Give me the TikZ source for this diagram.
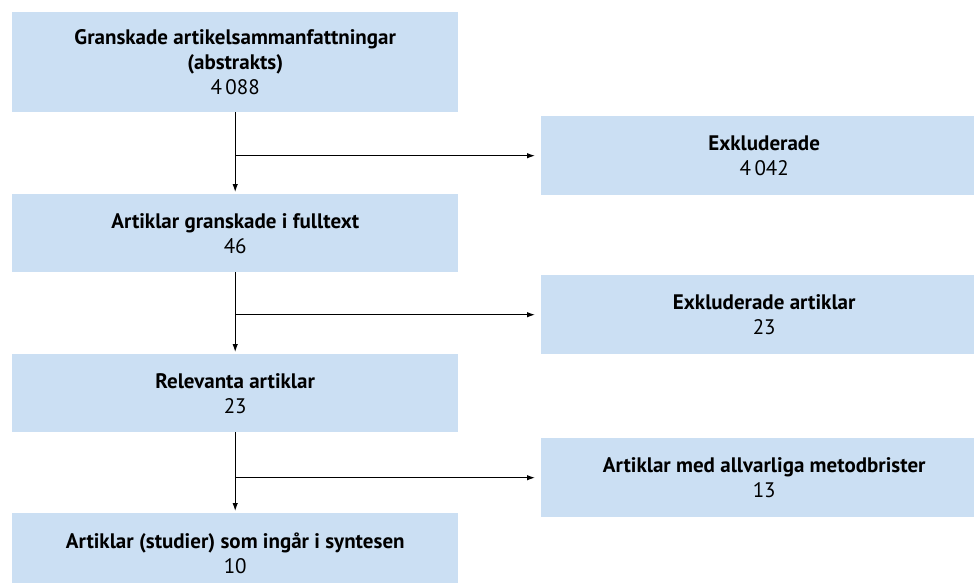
\documentclass[tikz,border=0pt]{standalone}
\usepackage{fontspec}
\setmainfont{PT Sans}
\usetikzlibrary{arrows.meta}
\definecolor{boxblue}{HTML}{CBDFF3}
\tikzset{
  stagebox/.style={fill=boxblue, draw=none, anchor=north west, inner sep=0pt,
    align=center, font=\fontsize{21}{25}\selectfont},
  flow/.style={draw=black, line width=1.1pt,
    -{Latex[length=8pt,width=5.5pt]}, shorten >=2pt},
  side/.style={flow, shorten >=6pt}
}
\begin{document}
\begin{tikzpicture}[x=1pt, y=-1pt]
  \useasboundingbox (0,0) rectangle (974,582);
  \begin{scope}
    \clip (0,0) rectangle (974,582);
    % main column
    \node[stagebox, minimum width=446pt, minimum height=100pt] (a) at (12,12)
      {\textbf{Granskade artikelsammanfattningar}\\\textbf{(abstrakts)}\\4\,088};
    \node[stagebox, minimum width=446pt, minimum height=78pt] (b) at (12,194)
      {\textbf{Artiklar granskade i fulltext}\\46};
    \node[stagebox, minimum width=446pt, minimum height=78pt] (c) at (12,354)
      {\textbf{Relevanta artiklar}\\23};
    \node[stagebox, minimum width=446pt, minimum height=80pt] (d) at (12,513)
      {\textbf{Artiklar (studier) som ingår i syntesen}\\10};
    % excluded column
    \node[stagebox, minimum width=446pt, minimum height=79pt] (r1) at (541,116)
      {\textbf{Exkluderade}\\4\,042};
    \node[stagebox, minimum width=446pt, minimum height=79pt] (r2) at (541,275)
      {\textbf{Exkluderade artiklar}\\23};
    \node[stagebox, minimum width=446pt, minimum height=79pt] (r3) at (541,438)
      {\textbf{Artiklar med allvarliga metodbrister}\\13};
  \end{scope}
  % connectors
  \draw[flow] (a.south) -- (b.north);
  \draw[flow] (b.south) -- (c.north);
  \draw[flow] (c.south) -- (d.north);
  \draw[side] (a.south |- r1.west) -- (r1.west);
  \draw[side] (b.south |- r2.west) -- (r2.west);
  \draw[side] (c.south |- r3.west) -- (r3.west);
\end{tikzpicture}
\end{document}
